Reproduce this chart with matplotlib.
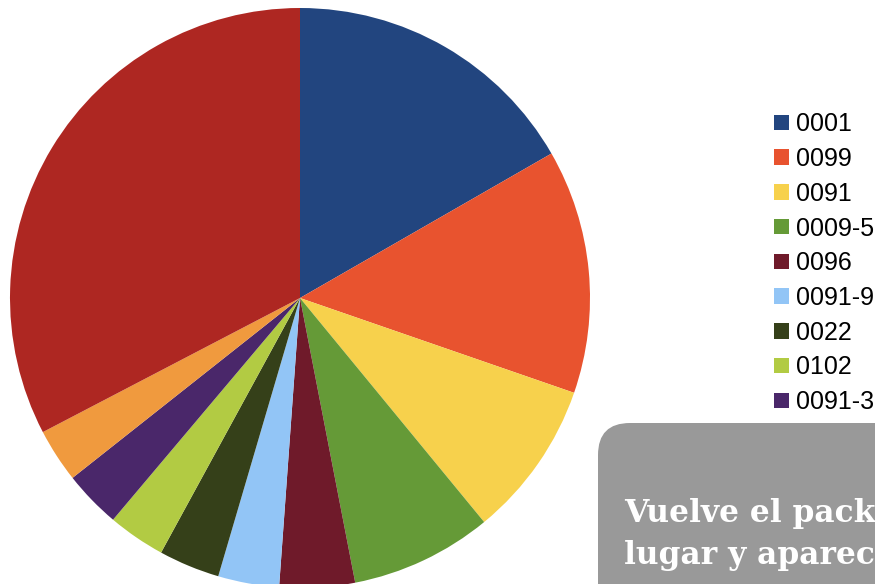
import matplotlib.pyplot as plt
from matplotlib.patches import FancyBboxPatch

# datos del grafico (angulos, en porcentaje)
labels = ['0001', '0099', '0091', '0009-5', '0096', '0091-9', '0022', '0102',
          '0091-3', '0091-2', 'Otros']
values = [16.7, 13.6, 8.75, 7.9, 4.2, 3.4, 3.4, 3.2, 3.2, 3.0, 32.65]
colors = ['#22457F', '#E8532F', '#F7D14C', '#659A37', '#6F1A2A', '#92C5F6',
          '#354019', '#B2CB43', '#4A276A', '#F09A3E', '#AE2722']

W, H = 875, 584
fig = plt.figure(figsize=(W / 100, H / 100), dpi=100)

# ejes del pastel: centro (300, 298), radio 290 px
ax = fig.add_axes([10 / W, (H - 588) / H, 580 / W, 580 / H])
wedges, _ = ax.pie(values, colors=colors, startangle=90, counterclock=False,
                   radius=1, wedgeprops=dict(linewidth=0))
ax.set_xlim(-1, 1)
ax.set_ylim(-1, 1)
ax.set_aspect('equal')
ax.axis('off')

leg = ax.legend(wedges, labels, loc='center left',
                bbox_to_anchor=(774 / W, (H - 298) / H),
                bbox_transform=fig.transFigure, frameon=False,
                prop={'family': 'Liberation Sans', 'size': 18},
                handlelength=0.58, handleheight=0.58, handletextpad=0.3,
                labelspacing=0.43, borderpad=0, borderaxespad=0)

# recuadro gris superpuesto (captura de pantalla)
ov = fig.add_axes([0, 0, 1, 1], zorder=10)
ov.set_xlim(0, W)
ov.set_ylim(H, 0)
ov.axis('off')
box = FancyBboxPatch((598, 423), 400, 300,
                     boxstyle='round,pad=0,rounding_size=32',
                     facecolor='#999999', edgecolor='none')
ov.add_patch(box)
ov.text(624, 522, 'Vuelve el pack', color='white',
        family='DejaVu Serif', fontsize=22.5, fontweight='bold')
ov.text(624, 564, 'lugar y aparec', color='white',
        family='DejaVu Serif', fontsize=22.5, fontweight='bold')

fig.savefig('out.png', dpi=100)
